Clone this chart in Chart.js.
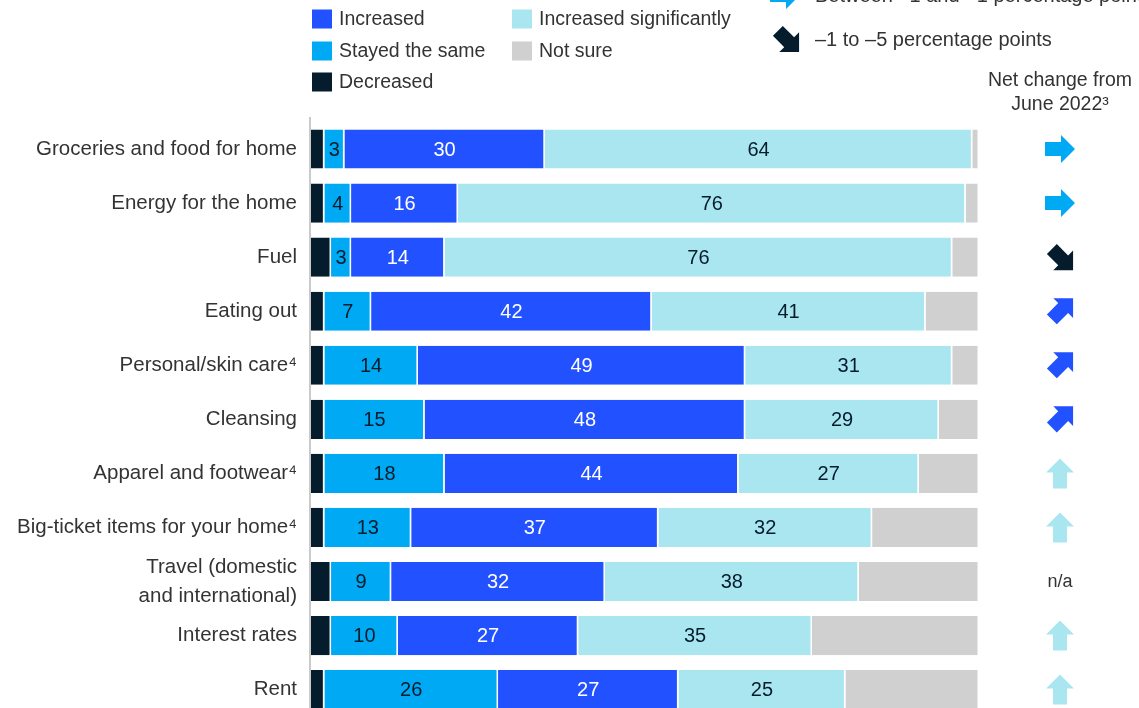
<!DOCTYPE html>
<html>
<head>
<meta charset="utf-8">
<title>Spending changes</title>
<script src="https://cdn.jsdelivr.net/npm/chart.js@4.4.1/dist/chart.umd.min.js"></script>
<style>
    html, body { margin: 0; padding: 0; background: #fff; overflow: hidden; }
    canvas { display: block; }
</style>
</head>
<body>
<canvas id="chart" width="1139" height="737"></canvas>
<script>
const categories = [
    'Groceries and food for home',
    'Energy for the home',
    'Fuel',
    'Eating out',
    'Personal/skin care⁴',
    'Cleansing',
    'Apparel and footwear⁴',
    'Big-ticket items for your home⁴',
    ['Travel (domestic', 'and international)'],
    'Interest rates',
    'Rent'
];

const decreased    = [2, 2, 3, 2, 2, 2, 2, 2, 3, 3, 2];
const stayedSame   = [3, 4, 3, 7, 14, 15, 18, 13, 9, 10, 26];
const increased    = [30, 16, 14, 42, 49, 48, 44, 37, 32, 27, 27];
const increasedSig = [64, 76, 76, 41, 31, 29, 27, 32, 38, 35, 25];
const notSure      = [1, 2, 4, 8, 4, 6, 9, 16, 18, 25, 20];

// net change since June 2022, one per category (null = n/a)
const netChange = ['flat', 'flat', 'down', 'up', 'up', 'up', 'upMore', 'upMore', null, 'upMore', 'upMore'];

const FONT = '"Liberation Sans", Arial, sans-serif';
const TEXT = '#333333';
const NAVY = '#051C2C';

const arrowStyles = {
    flat:   { angle: 0,            color: '#00A9F4', shift: 0 },
    down:   { angle: Math.PI / 4,  color: NAVY,      shift: 3.5 },
    up:     { angle: -Math.PI / 4, color: '#2251FF', shift: 3.5 },
    upMore: { angle: -Math.PI / 2, color: '#AAE6F0', shift: 0 }
};

function drawArrow(ctx, x, y, style) {
    const pts = [[-15, -7], [1, -7], [1, -14], [15, 0], [1, 14], [1, 7], [-15, 7]];
    ctx.save();
    ctx.translate(x, y);
    ctx.rotate(style.angle);
    ctx.translate(style.shift, 0);
    ctx.beginPath();
    pts.forEach(([px, py], i) => i ? ctx.lineTo(px, py) : ctx.moveTo(px, py));
    ctx.closePath();
    ctx.fillStyle = style.color;
    ctx.fill();
    ctx.restore();
}

// numbers inside the segments
const valueLabels = {
    id: 'valueLabels',
    afterDatasetsDraw(chart) {
        const ctx = chart.ctx;
        ctx.save();
        ctx.font = '20px ' + FONT;
        ctx.textAlign = 'center';
        ctx.textBaseline = 'middle';
        chart.data.datasets.forEach((ds, i) => {
            if (!ds.valueColor) return;
            chart.getDatasetMeta(i).data.forEach((bar, j) => {
                ctx.fillStyle = ds.valueColor;
                ctx.fillText(ds.data[j], (bar.x + bar.base) / 2, bar.y + 1);
            });
        });
        ctx.restore();
    }
};

// axis line, legend block and the net change column
const decorations = {
    id: 'decorations',
    beforeDatasetsDraw(chart) {
        const ctx = chart.ctx;
        const x = chart.chartArea.left - 1;
        ctx.save();
        ctx.strokeStyle = '#b8b8b8';
        ctx.lineWidth = 1.5;
        ctx.beginPath();
        ctx.moveTo(x, 117);
        ctx.lineTo(x, chart.height);
        ctx.stroke();
        ctx.restore();
    },
    afterDraw(chart) {
        const ctx = chart.ctx;
        const ds = chart.data.datasets;
        ctx.save();
        ctx.font = '19.5px ' + FONT;
        ctx.textBaseline = 'middle';
        ctx.textAlign = 'left';

        const legendItems = [
            { ds: ds[2], x: 312, y: 19 },
            { ds: ds[1], x: 312, y: 51 },
            { ds: ds[0], x: 312, y: 82 },
            { ds: ds[3], x: 512, y: 19 },
            { ds: ds[4], x: 512, y: 51 }
        ];
        legendItems.forEach(item => {
            ctx.fillStyle = item.ds.backgroundColor;
            ctx.fillRect(item.x, item.y - 9.5, 20, 19);
            ctx.fillStyle = TEXT;
            ctx.fillText(item.ds.label, item.x + 27, item.y + 1);
        });

        ctx.font = '20px ' + FONT;
        drawArrow(ctx, 785, -5, arrowStyles.flat);
        ctx.fillStyle = TEXT;
        ctx.fillText('Between \u20131 and +1 percentage point', 815, -4);
        drawArrow(ctx, 786, 39, arrowStyles.down);
        ctx.fillStyle = TEXT;
        ctx.fillText('\u20131 to \u20135 percentage points', 815, 40);

        const colX = 1060;
        ctx.font = '19.5px ' + FONT;
        ctx.textAlign = 'center';
        ctx.fillText('Net change from', colX, 81);
        ctx.fillText('June 2022³', colX, 105);

        const yScale = chart.scales.y;
        netChange.forEach((kind, i) => {
            const y = yScale.getPixelForValue(i);
            if (kind) {
                drawArrow(ctx, colX, y, arrowStyles[kind]);
            } else {
                ctx.fillStyle = TEXT;
                ctx.font = '18px ' + FONT;
                ctx.fillText('n/a', colX, y + 1);
            }
        });
        ctx.restore();
    }
};

function makeSet(label, data, color, valueColor) {
    return {
        label: label,
        data: data,
        backgroundColor: color,
        borderColor: '#ffffff',
        borderWidth: { right: 1.5 },
        borderSkipped: false,
        valueColor: valueColor
    };
}

const data = {
    labels: categories,
    datasets: [
        makeSet('Decreased', decreased, NAVY, null),
        makeSet('Stayed the same', stayedSame, '#00A9F4', NAVY),
        makeSet('Increased', increased, '#2251FF', '#ffffff'),
        makeSet('Increased significantly', increasedSig, '#AAE6F0', NAVY),
        makeSet('Not sure', notSure, '#D0D0D0', null)
    ]
};

const options = {
    indexAxis: 'y',
    responsive: false,
    animation: false,
    events: [],
    layout: { padding: { top: 122, right: 160, left: 0, bottom: 0 } },
    datasets: {
        bar: { barPercentage: 0.724, categoryPercentage: 1 }
    },
    plugins: {
        legend: { display: false },
        tooltip: { enabled: false }
    },
    scales: {
        x: {
            stacked: true,
            min: 0,
            max: 100,
            display: false
        },
        y: {
            stacked: true,
            grid: { display: false },
            border: { display: false },
            ticks: {
                color: TEXT,
                padding: 6,
                autoSkip: false,
                font: { family: FONT, size: 20.5, lineHeight: 1.4 }
            },
            afterFit(scale) {
                scale.width = 311;
            }
        }
    }
};

new Chart(document.getElementById('chart'), {
    type: 'bar',
    data: data,
    options: options,
    plugins: [valueLabels, decorations]
});
</script>
</body>
</html>
